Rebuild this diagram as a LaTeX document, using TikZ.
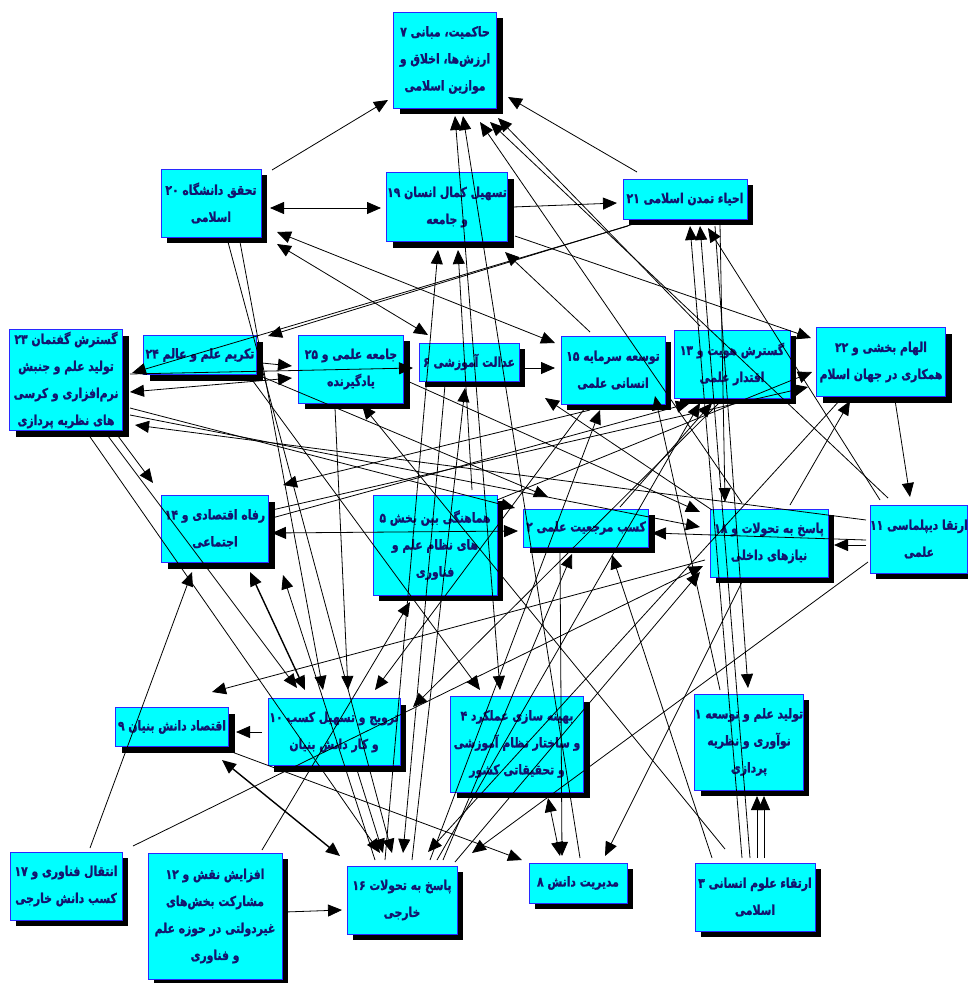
\documentclass[tikz,border=0pt]{standalone}
\usepackage{fontspec}
\TeXXeTstate=1
\newfontfamily\fa[Script=Arabic,BoldFont={DejaVu Sans Bold},FakeStretch=0.8,BoldFeatures={FakeBold=1.2}]{DejaVu Sans}
\usetikzlibrary{arrows.meta,shadows}
\definecolor{boxfill}{RGB}{0,255,255}
\definecolor{boxline}{RGB}{40,40,255}
\definecolor{txt}{RGB}{20,20,110}
\newcommand\R[1]{\beginR #1\endR}
\begin{document}
\begin{tikzpicture}[x=1pt,y=-1pt,
  bx/.style={draw=boxline,line width=1pt,fill=boxfill,inner sep=0pt,align=center,
     font=\fa\bfseries\fontsize{13.5}{27}\selectfont,text=txt,
     drop shadow={shadow xshift=6pt,shadow yshift=-6pt,fill=black,opacity=1}},
  ar/.style={-{Triangle[length=14pt,width=12pt]},line width=0.8pt},
  ab/.style={{Triangle[length=14pt,width=12pt]}-{Triangle[length=14pt,width=12pt]},line width=0.8pt},
  thick2/.style={line width=1.4pt}
]
\fill[white] (0,0) rectangle (967,983);
\useasboundingbox (0,0) rectangle (967,983);

\node[bx,minimum width=103pt,minimum height=96pt] (n7) at (445,60) {\R{حاکمیت، مبانی ۷}\\\R{ارزش‌ها، اخلاق و}\\\R{موازین اسلامی}};
\node[bx,minimum width=100pt,minimum height=68pt] (n20) at (211,203) {\R{تحقق دانشگاه ۲۰}\\\R{اسلامی}};
\node[bx,minimum width=121pt,minimum height=69pt] (n19) at (447,207) {\R{تسهیل کمال انسان ۱۹}\\\R{و جامعه}};
\node[bx,minimum width=124pt,minimum height=40pt] (n21) at (685,199) {\R{احیاء تمدن اسلامی ۲۱}};
\node[bx,minimum width=113pt,minimum height=101pt] (n23) at (66,380) {\R{گسترش گفتمان ۲۳}\\\R{تولید علم و جنبش}\\\R{نرم‌افزاری و کرسی}\\\R{های نظریه پردازی}};
\node[bx,minimum width=113pt,minimum height=39pt] (n24) at (200,355) {\R{تکریم علم و عالم ۲۴}};
\node[bx,minimum width=105pt,minimum height=68pt] (n25) at (351,369) {\R{جامعه علمی و ۲۵}\\\R{یادگیرنده}};
\node[bx,minimum width=100pt,minimum height=38pt] (n6) at (469,362) {\R{عدالت آموزشی ۶}};
\node[bx,minimum width=104pt,minimum height=68pt] (n15) at (613,370) {\R{توسعه سرمایه ۱۵}\\\R{انسانی علمی}};
\node[bx,minimum width=116pt,minimum height=68pt] (n13) at (732,364) {\R{گسترش هویت و ۱۳}\\\R{اقتدار علمی}};
\node[bx,minimum width=129pt,minimum height=69pt] (n22) at (881,362) {\R{الهام بخشی و ۲۲}\\\R{همکاری در جهان اسلام}};
\node[bx,minimum width=107pt,minimum height=67pt] (n14) at (215,529) {\R{رفاه اقتصادی و ۱۴}\\\R{اجتماعی}};
\node[bx,minimum width=124pt,minimum height=100pt] (n5) at (435,545) {\R{هماهنگی بین بخش ۵}\\\R{های نظام علم و}\\\R{فناوری}};
\node[bx,minimum width=125pt,minimum height=38pt] (n2) at (586,528) {\R{کسب مرجعیت علمی ۲}};
\node[bx,minimum width=118pt,minimum height=68pt] (n18) at (769,543) {\R{پاسخ به تحولات و ۱۸}\\\R{نیازهای داخلی}};
\node[bx,minimum width=94pt,minimum height=68pt] (n11) at (919,539) {\R{ارتقا دیپلماسی ۱۱}\\\R{علمی}};
\node[bx,minimum width=113pt,minimum height=39pt] (n9) at (172,727) {\R{اقتصاد دانش بنیان ۹}};
\node[bx,minimum width=132pt,minimum height=67pt] (n10) at (334,732) {\R{ترویج و تسهیل کسب ۱۰}\\\R{و کار دانش بنیان}};
\node[bx,minimum width=133pt,minimum height=96pt] (n4) at (517,744) {\R{بهینه سازی عملکرد ۴}\\\R{و ساختار نظام آموزشی}\\\R{و تحقیقاتی کشور}};
\node[bx,minimum width=103pt,minimum height=96pt] (n1) at (749,742) {\R{تولید علم و توسعه ۱}\\\R{نوآوری و نظریه}\\\R{پردازی}};
\node[bx,minimum width=112pt,minimum height=68pt] (n17) at (66,886) {\R{انتقال فناوری و ۱۷}\\\R{کسب دانش خارجی}};
\node[bx,minimum width=134pt,minimum height=126pt] (n12) at (215,916) {\R{افزایش نقش و ۱۲}\\\R{مشارکت بخش‌های}\\\R{غیردولتی در حوزه علم}\\\R{و فناوری}};
\node[bx,minimum width=110pt,minimum height=68pt] (n16) at (402,900) {\R{پاسخ به تحولات ۱۶}\\\R{خارجی}};
\node[bx,minimum width=98pt,minimum height=40pt] (n8) at (578,883) {\R{مدیریت دانش ۸}};
\node[bx,minimum width=120pt,minimum height=68pt] (n3) at (755,897) {\R{ارتقاء علوم انسانی ۳}\\\R{اسلامی}};

% connectors
\draw[ar] ([shift={(61,-33)}]n20.center) -- ([shift={(-57,40)}]n7.center);
\draw[ar] ([shift={(-48,-27)}]n21.center) -- ([shift={(63,37)}]n7.center);
\draw[ab] ([shift={(59,5)}]n20.center) -- ([shift={(-66,1)}]n19.center);
\draw[ar] ([shift={(66,0)}]n19.center) -- ([shift={(-68,4)}]n21.center);
\draw[ab] ([shift={(66,29)}]n20.center) -- ([shift={(-58,-27)}]n15.center);
\draw[ab] ([shift={(66,41)}]n20.center) -- ([shift={(-41,-27)}]n6.center);
\draw[ar] ([shift={(-45,23)}]n21.center) -- ([shift={(68,-19)}]n24.center);
\draw[ar] ([shift={(-57,27)}]n21.center) -- ([shift={(66,-7)}]n23.center);
\draw[ab] ([shift={(-17,-54)}]n4.center) -- ([shift={(10,56)}]n7.center);
\draw[ar] ([shift={(2,-25)}]n8.center) -- ([shift={(18,56)}]n7.center);
\draw[ar] ([shift={(-27,-40)}]n18.center) -- ([shift={(35,62)}]n7.center);
\draw[ar] ([shift={(-31,-41)}]n11.center) -- ([shift={(45,62)}]n7.center);
\draw[ar] ([shift={(-32,-38)}]n13.center) -- ([shift={(53,58)}]n7.center);
\draw[ar] ([shift={(-17,-40)}]n16.center) -- ([shift={(-9,43)}]n19.center);
\draw[ar] ([shift={(37,-55)}]n5.center) -- ([shift={(11,43)}]n19.center);
\draw[ar] ([shift={(-23,-38)}]n15.center) -- ([shift={(58,45)}]n19.center);
\draw[ar] ([shift={(64,-6)}]n23.center) -- ([shift={(-56,6)}]n6.center);
\draw[ab] ([shift={(64,12)}]n23.center) -- ([shift={(-59,9)}]n25.center);
\draw[ar] ([shift={(62,8)}]n24.center) -- ([shift={(-59,-3)}]n25.center);
\draw[ar] ([shift={(53,6)}]n6.center) -- ([shift={(-58,-2)}]n15.center);
\draw[ar] ([shift={(64,28)}]n23.center) -- ([shift={(-71,-20)}]n2.center);
\draw[ar] ([shift={(58,20)}]n24.center) -- ([shift={(-38,-31)}]n2.center);
\draw[ar] ([shift={(64,35)}]n23.center) -- ([shift={(-69,-16)}]n18.center);
\draw[ar] ([shift={(-53,-19)}]n11.center) -- ([shift={(69,45)}]n23.center);
\draw[ar] ([shift={(52,56)}]n23.center) -- ([shift={(-62,-46)}]n14.center);
\draw[ar] ([shift={(42,56)}]n23.center) -- ([shift={(-37,-44)}]n10.center);
\draw[ar] ([shift={(22,54)}]n23.center) -- ([shift={(-22,-47)}]n16.center);
\draw[ar] ([shift={(24,-38)}]n17.center) -- ([shift={(-23,43)}]n14.center);
\draw[ar] ([shift={(67,-40)}]n17.center) -- ([shift={(-66,23)}]n18.center);
\draw[ar] ([shift={(47,-66)}]n12.center) -- ([shift={(-25,57)}]n5.center);
\draw[ar] ([shift={(70,-4)}]n12.center) -- ([shift={(-60,10)}]n16.center);
\draw[ab,thick2] ([shift={(50,33)}]n9.center) -- ([shift={(-62,-44)}]n16.center);
\draw[ar] ([shift={(-72,0)}]n10.center) -- ([shift={(64,5)}]n9.center);
\draw[ar] ([shift={(60,25)}]n9.center) -- ([shift={(-56,-23)}]n8.center);
\draw[ar] ([shift={(-64,17)}]n18.center) -- ([shift={(40,-35)}]n9.center);
\draw[ab,thick2] ([shift={(35,43)}]n14.center) -- ([shift={(-29,-42)}]n10.center);
\draw[ab] ([shift={(57,4)}]n14.center) -- ([shift={(-68,3)}]n2.center);
\draw[ar] ([shift={(-23,40)}]n15.center) -- ([shift={(68,-44)}]n14.center);
\draw[ar] ([shift={(57,-19)}]n14.center) -- ([shift={(-73,25)}]n22.center);
\draw[ar] ([shift={(57,-11)}]n14.center) -- ([shift={(-42,39)}]n13.center);
\draw[ar] ([shift={(-53,6)}]n11.center) -- ([shift={(65,2)}]n18.center);
\draw[ar] ([shift={(-53,1)}]n11.center) -- ([shift={(66,5)}]n2.center);
\draw[ar] ([shift={(14,38)}]n22.center) -- ([shift={(-9,-42)}]n11.center);
\draw[ar] ([shift={(-39,-39)}]n11.center) -- ([shift={(23,29)}]n21.center);
\draw[ar] ([shift={(-13,-39)}]n3.center) -- ([shift={(5,27)}]n21.center);
\draw[ar] ([shift={(-5,-39)}]n3.center) -- ([shift={(15,27)}]n21.center);
\draw[ar] ([shift={(2,-39)}]n3.center) -- ([shift={(8,54)}]n1.center);
\draw[ar] ([shift={(9,-39)}]n3.center) -- ([shift={(15,54)}]n1.center);
\draw[ar] ([shift={(-43,-39)}]n3.center) -- ([shift={(26,27)}]n2.center);
\draw[ar] ([shift={(30,27)}]n21.center) -- ([shift={(-1,-54)}]n1.center);
\draw[ar] ([shift={(35,25)}]n21.center) -- ([shift={(-44,-41)}]n18.center);
\draw[ar] ([shift={(-26,24)}]n2.center) -- ([shift={(-16,-27)}]n8.center);
\draw[ar] ([shift={(-27,39)}]n18.center) -- ([shift={(27,-27)}]n8.center);
\draw[ab] ([shift={(31,54)}]n4.center) -- ([shift={(-18,-27)}]n8.center);
\draw[ar] ([shift={(-27,-40)}]n16.center) -- ([shift={(68,46)}]n14.center);
\draw[ar] ([shift={(10,-40)}]n16.center) -- ([shift={(-4,26)}]n6.center);
\draw[ar] ([shift={(28,-40)}]n16.center) -- ([shift={(-13,40)}]n15.center);
\draw[ar] ([shift={(35,-40)}]n16.center) -- ([shift={(-32,39)}]n13.center);
\draw[ar] ([shift={(41,-40)}]n16.center) -- ([shift={(-14,26)}]n2.center);
\draw[ar] ([shift={(53,-38)}]n16.center) -- ([shift={(-69,29)}]n18.center);
\draw[ar] ([shift={(17,39)}]n20.center) -- ([shift={(-10,-47)}]n16.center);
\draw[ar] ([shift={(23,38)}]n10.center) -- ([shift={(-19,-47)}]n16.center);
\draw[ar] ([shift={(-24,23)}]n6.center) -- ([shift={(1,-47)}]n16.center);
\draw[ar] ([shift={(-41,38)}]n22.center) -- ([shift={(26,-48)}]n16.center);
\draw[ar] ([shift={(-51,23)}]n11.center) -- ([shift={(70,-47)}]n16.center);
\draw[ar] ([shift={(29,39)}]n20.center) -- ([shift={(-11,-42)}]n10.center);
\draw[ar] ([shift={(-16,39)}]n25.center) -- ([shift={(14,-42)}]n10.center);
\draw[ar] ([shift={(-28,38)}]n15.center) -- ([shift={(41,-42)}]n10.center);
\draw[ar] ([shift={(-12,38)}]n13.center) -- ([shift={(79,-25)}]n10.center);
\draw[ar] ([shift={(50,22)}]n24.center) -- ([shift={(-37,-54)}]n4.center);
\draw[ar] ([shift={(34,-21)}]n2.center) -- ([shift={(-20,39)}]n13.center);
\draw[ar] ([shift={(21,-38)}]n18.center) -- ([shift={(-31,39)}]n22.center);
\draw[ar] ([shift={(68,29)}]n19.center) -- ([shift={(-70,-24)}]n22.center);
\draw[ar] ([shift={(-57,-33)}]n18.center) -- ([shift={(-68,28)}]n15.center);
\draw[ar] ([shift={(62,-45)}]n5.center) -- ([shift={(-69,10)}]n22.center);
\draw[ar] ([shift={(-29,-52)}]n1.center) -- ([shift={(42,26)}]n15.center);
\draw[ar] ([shift={(-30,-48)}]n3.center) -- ([shift={(11,36)}]n25.center);
\draw[ar] ([shift={(54,11)}]n25.center) -- ([shift={(-69,-31)}]n18.center);
\end{tikzpicture}
\end{document}
